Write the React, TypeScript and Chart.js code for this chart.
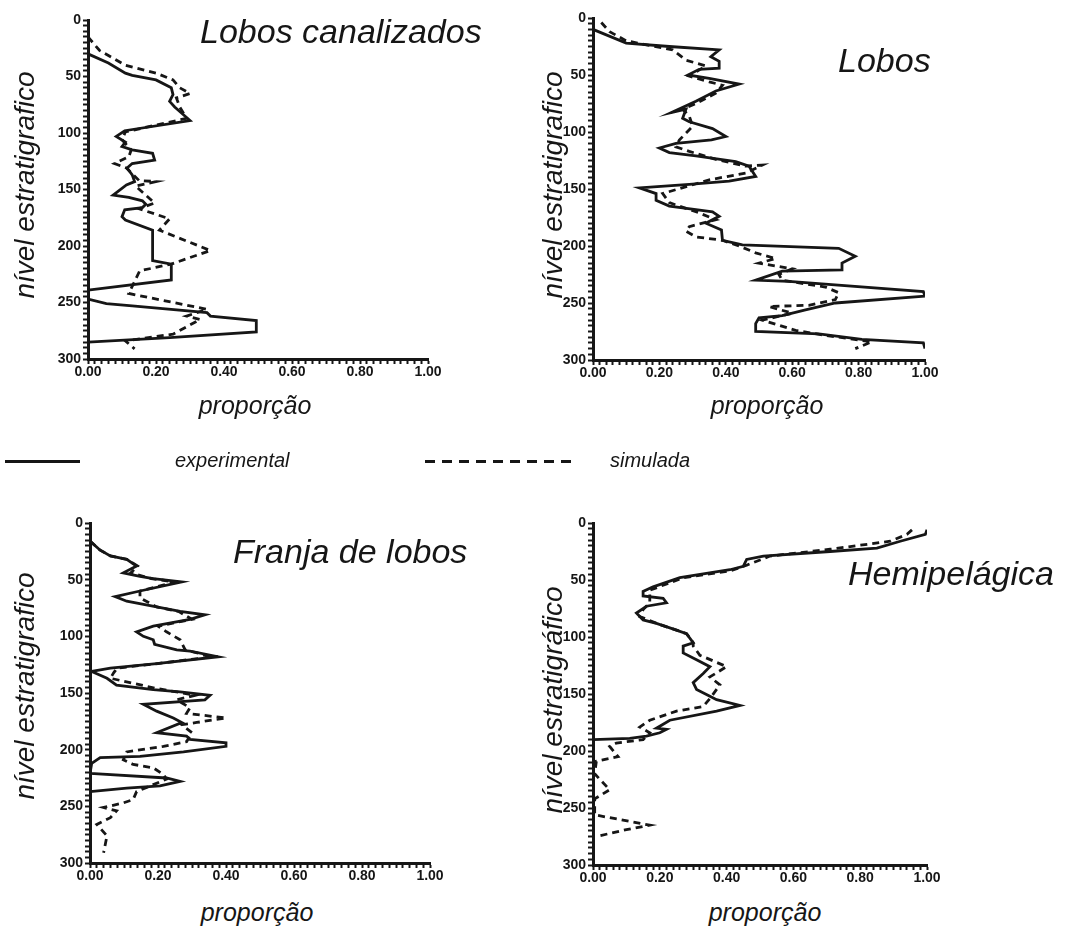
import React, { useEffect, useRef } from "react";
import { Chart, registerables } from "chart.js";

Chart.register(...registerables);

// ---------- tick labels ----------
const levelTickLabels = [0, 50, 100, 150, 200, 250, 300];
const proportionTickLabels = ["0.00", "0.20", "0.40", "0.60", "0.80", "1.00"];

// ---------- Lobos canalizados ----------
const lcExpLevel = [30, 38, 47, 49, 53, 60, 66, 72, 77, 81, 89, 98, 103, 108, 112, 115, 118, 124, 127, 131, 137, 143, 146, 155, 157, 160, 163, 166, 168, 174, 177, 186, 213, 216, 230, 239, 247, 251, 253, 259, 262, 266, 276, 281, 285];
const lcExpProp = [0, 0.06, 0.11, 0.13, 0.2, 0.245, 0.25, 0.24, 0.255, 0.27, 0.3, 0.108, 0.083, 0.11, 0.1, 0.13, 0.19, 0.196, 0.13, 0.115, 0.13, 0.137, 0.113, 0.074, 0.12, 0.16, 0.17, 0.16, 0.108, 0.1, 0.11, 0.19, 0.19, 0.245, 0.245, 0, 0, 0.054, 0.13, 0.35, 0.36, 0.495, 0.495, 0.24, 0];
const lcSimLevel = [15, 27, 40, 47, 53, 60, 65, 69, 77, 87, 99, 106, 115, 121, 127, 131, 136, 142, 143, 147, 155, 162, 167, 176, 186, 204, 216, 222, 242, 256, 262, 265, 278, 284, 291];
const lcSimProp = [0, 0.034, 0.11, 0.2, 0.25, 0.27, 0.3, 0.26, 0.27, 0.29, 0.11, 0.1, 0.127, 0.12, 0.078, 0.113, 0.13, 0.15, 0.2, 0.14, 0.17, 0.196, 0.15, 0.24, 0.21, 0.36, 0.245, 0.152, 0.12, 0.35, 0.29, 0.33, 0.25, 0.11, 0.137];

// ---------- Lobos ----------
const lbExpLevel = [10, 22, 25, 28, 34, 38, 44, 45, 50, 53, 58, 64, 73, 83, 80, 88, 91, 97, 104, 107, 110, 114, 118, 121, 126, 130, 139, 143, 146, 149, 154, 160, 165, 168, 170, 174, 180, 186, 195, 199, 202, 209, 215, 221, 222, 230, 231, 240, 244, 250, 256, 261, 263, 268, 275, 277, 282, 285, 290];
const lbExpProp = [0, 0.1, 0.23, 0.38, 0.355, 0.38, 0.38, 0.32, 0.286, 0.35, 0.44, 0.37, 0.31, 0.236, 0.28, 0.27, 0.29, 0.36, 0.4, 0.357, 0.25, 0.2, 0.23, 0.31, 0.43, 0.47, 0.49, 0.41, 0.29, 0.14, 0.19, 0.19, 0.23, 0.31, 0.36, 0.38, 0.34, 0.387, 0.39, 0.45, 0.74, 0.79, 0.75, 0.75, 0.57, 0.49, 0.59, 0.995, 1.0, 0.73, 0.64, 0.57, 0.5, 0.49, 0.49, 0.68, 0.81, 0.995, 1.0];
const lbSimLevel = [4, 12, 20, 28, 37, 42, 51, 56, 59, 66, 75, 80, 86, 95, 107, 113, 117, 124, 130, 129, 136, 142, 154, 162, 171, 177, 183, 187, 192, 195, 200, 206, 211, 215, 220, 225, 230, 236, 241, 247, 252, 253, 259, 265, 274, 278, 284, 290];
const lbSimProp = [0.025, 0.05, 0.1, 0.24, 0.28, 0.34, 0.29, 0.35, 0.39, 0.37, 0.31, 0.27, 0.29, 0.3, 0.26, 0.25, 0.29, 0.37, 0.46, 0.51, 0.46, 0.35, 0.21, 0.23, 0.32, 0.37, 0.29, 0.28, 0.31, 0.39, 0.44, 0.49, 0.55, 0.5, 0.6, 0.56, 0.57, 0.7, 0.74, 0.73, 0.65, 0.53, 0.6, 0.51, 0.61, 0.69, 0.84, 0.79];

// ---------- Franja de lobos ----------
const flExpLevel = [16, 24, 29, 32, 38, 44, 47, 49, 52, 60, 65, 69, 74, 78, 81, 85, 91, 96, 100, 103, 107, 112, 113, 118, 124, 128, 131, 137, 143, 147, 149, 152, 156, 160, 166, 172, 176, 185, 188, 191, 194, 197, 202, 206, 207, 212, 221, 225, 228, 232, 234, 237];
const flExpProp = [0, 0.03, 0.06, 0.108, 0.137, 0.098, 0.147, 0.186, 0.27, 0.147, 0.074, 0.108, 0.196, 0.265, 0.338, 0.294, 0.186, 0.137, 0.157, 0.186, 0.19, 0.255, 0.294, 0.377, 0.196, 0.06, 0.005, 0.05, 0.078, 0.186, 0.265, 0.353, 0.338, 0.157, 0.196, 0.245, 0.27, 0.196, 0.284, 0.294, 0.4, 0.4, 0.275, 0.147, 0.03, 0.005, 0, 0.225, 0.265, 0.206, 0.108, 0];
const flSimLevel = [16, 24, 29, 32, 38, 44, 49, 52, 60, 66, 74, 78, 85, 91, 96, 103, 112, 115, 118, 124, 128, 132, 137, 146, 152, 156, 163, 168, 172, 176, 178, 185, 193, 197, 202, 209, 213, 216, 222, 226, 237, 244, 247, 251, 254, 260, 266, 276, 291];
const flSimProp = [0, 0.03, 0.06, 0.108, 0.14, 0.12, 0.18, 0.25, 0.147, 0.147, 0.196, 0.26, 0.3, 0.2, 0.225, 0.265, 0.28, 0.32, 0.36, 0.2, 0.08, 0.07, 0.06, 0.196, 0.31, 0.255, 0.294, 0.284, 0.4, 0.314, 0.27, 0.3, 0.284, 0.216, 0.108, 0.098, 0.127, 0.186, 0.216, 0.225, 0.137, 0.127, 0.098, 0.04, 0.078, 0.06, 0.02, 0.05, 0.04];

// ---------- Hemipelágica ----------
const hpExpLevel = [6, 10, 16, 22, 25, 29, 32, 38, 41, 48, 56, 60, 64, 66, 70, 73, 79, 85, 88, 92, 97, 105, 108, 114, 120, 126, 132, 140, 146, 152, 155, 160, 165, 173, 180, 181, 184, 187, 189, 190];
const hpExpProp = [1.0, 0.995, 0.92, 0.85, 0.71, 0.51, 0.46, 0.45, 0.41, 0.26, 0.18, 0.15, 0.15, 0.21, 0.22, 0.16, 0.13, 0.15, 0.19, 0.23, 0.28, 0.3, 0.27, 0.27, 0.31, 0.35, 0.33, 0.3, 0.31, 0.35, 0.37, 0.44, 0.37, 0.23, 0.19, 0.22, 0.2, 0.16, 0.11, 0];
const hpSimLevel = [6, 10, 16, 23, 29, 37, 42, 48, 59, 64, 70, 76, 82, 88, 92, 97, 105, 108, 116, 126, 135, 142, 154, 161, 165, 173, 179, 184, 190, 193, 196, 205, 209, 220, 234, 242, 256, 265, 269, 275];
const hpSimProp = [0.955, 0.94, 0.89, 0.71, 0.53, 0.46, 0.41, 0.27, 0.17, 0.17, 0.17, 0.15, 0.14, 0.19, 0.23, 0.28, 0.3, 0.3, 0.32, 0.4, 0.35, 0.38, 0.35, 0.33, 0.25, 0.17, 0.14, 0.17, 0.15, 0.07, 0.05, 0.075, 0.01, 0.005, 0.05, 0.005, 0.005, 0.17, 0.1, 0.01];

const INK = "#161616";
const FONT = "'Liberation Sans', Arial, Helvetica, sans-serif";

type Box = { left: number; top: number; width: number; height: number };
type Area = { left: number; top: number; right: number; bottom: number };

function Panel(props: {
  box: Box;
  area: Area;
  expLevel: number[];
  expProp: number[];
  simLevel: number[];
  simProp: number[];
}) {
  const ref = useRef<HTMLCanvasElement | null>(null);
  const { box, area, expLevel, expProp, simLevel, simProp } = props;

  useEffect(() => {
    if (!ref.current) return;
    const yWidth = area.left - box.left;
    const xHeight = box.top + box.height - area.bottom;
    const tickFont = { family: FONT, weight: "bold" as const, size: 14 };
    const chart = new Chart(ref.current, {
      type: "scatter",
      data: {
        datasets: [
          {
            label: "experimental",
            data: expProp.map((p, i) => ({ x: p, y: expLevel[i] })),
            showLine: true,
            borderColor: INK,
            borderWidth: 2.8,
            pointRadius: 0,
            tension: 0,
            fill: false,
          },
          {
            label: "simulada",
            data: simProp.map((p, i) => ({ x: p, y: simLevel[i] })),
            showLine: true,
            borderColor: INK,
            borderWidth: 2.8,
            borderDash: [7, 5],
            pointRadius: 0,
            tension: 0,
            fill: false,
          },
        ],
      },
      options: {
        animation: false,
        responsive: false,
        maintainAspectRatio: false,
        layout: {
          padding: {
            top: area.top - box.top,
            right: box.left + box.width - area.right,
            left: 0,
            bottom: 0,
          },
        },
        plugins: {
          legend: { display: false },
          tooltip: { enabled: false },
        },
        scales: {
          x: {
            type: "linear",
            position: "bottom",
            min: 0,
            max: 1,
            border: { display: true, color: INK, width: 3 },
            grid: {
              drawOnChartArea: false,
              drawTicks: true,
              tickLength: 5,
              tickColor: INK,
              tickWidth: 2,
            },
            ticks: {
              stepSize: 0.02,
              maxTicksLimit: 1000,
              autoSkip: false,
              maxRotation: 0,
              minRotation: 0,
              padding: 0,
              color: INK,
              font: tickFont,
              callback: (v: any) => {
                const s = Number(v).toFixed(2);
                return proportionTickLabels.includes(s) ? s : "";
              },
            },
            afterFit: (s: any) => {
              s.height = xHeight;
            },
          },
          y: {
            type: "linear",
            position: "left",
            min: 0,
            max: 300,
            reverse: true,
            border: { display: true, color: INK, width: 3 },
            grid: {
              drawOnChartArea: false,
              drawTicks: true,
              tickLength: 5,
              tickColor: INK,
              tickWidth: 2,
            },
            ticks: {
              stepSize: 5,
              maxTicksLimit: 1000,
              autoSkip: false,
              padding: 2,
              color: INK,
              font: tickFont,
              callback: (v: any) => {
                const n = Math.round(Number(v));
                return levelTickLabels.includes(n) ? String(n) : "";
              },
            },
            afterFit: (s: any) => {
              s.width = yWidth;
            },
          },
        },
      },
    });
    return () => chart.destroy();
  }, []);

  return (
    <canvas
      ref={ref}
      width={box.width}
      height={box.height}
      style={{
        position: "absolute",
        left: box.left,
        top: box.top,
        width: box.width,
        height: box.height,
      }}
    />
  );
}

function Txt(props: { x: number; y: number; size: number; children: any; rotate?: boolean; anchor?: "start" | "middle" }) {
  const { x, y, size, children, rotate, anchor } = props;
  const base: React.CSSProperties = {
    position: "absolute",
    left: x,
    top: y,
    fontFamily: FONT,
    fontStyle: "italic",
    fontSize: size,
    lineHeight: 1,
    color: INK,
    whiteSpace: "nowrap",
  };
  if (rotate) {
    base.transform = "translate(-50%, -50%) rotate(-90deg)";
  } else if (anchor === "middle") {
    base.transform = "translate(-50%, -50%)";
  }
  return <div style={base}>{children}</div>;
}

export default function App() {
  return (
    <div
      style={{
        position: "absolute",
        left: 0,
        top: 0,
        width: 1075,
        height: 927,
        background: "#ffffff",
        overflow: "hidden",
      }}
    >
      <Panel
        box={{ left: 0, top: 0, width: 530, height: 395 }}
        area={{ left: 88, top: 20, right: 428, bottom: 359 }}
        expLevel={lcExpLevel}
        expProp={lcExpProp}
        simLevel={lcSimLevel}
        simProp={lcSimProp}
      />
      <Panel
        box={{ left: 530, top: 0, width: 545, height: 395 }}
        area={{ left: 593, top: 18, right: 925, bottom: 360 }}
        expLevel={lbExpLevel}
        expProp={lbExpProp}
        simLevel={lbSimLevel}
        simProp={lbSimProp}
      />
      <Panel
        box={{ left: 0, top: 500, width: 530, height: 395 }}
        area={{ left: 90, top: 523, right: 430, bottom: 863 }}
        expLevel={flExpLevel}
        expProp={flExpProp}
        simLevel={flSimLevel}
        simProp={flSimProp}
      />
      <Panel
        box={{ left: 530, top: 500, width: 545, height: 395 }}
        area={{ left: 593, top: 523, right: 927, bottom: 865 }}
        expLevel={hpExpLevel}
        expProp={hpExpProp}
        simLevel={hpSimLevel}
        simProp={hpSimProp}
      />

      {/* panel titles */}
      <Txt x={200} y={14} size={34}>Lobos canalizados</Txt>
      <Txt x={838} y={43} size={34}>Lobos</Txt>
      <Txt x={233} y={534} size={34}>Franja de lobos</Txt>
      <Txt x={848} y={556} size={34}>Hemipelágica</Txt>

      {/* y-axis titles */}
      <Txt x={25} y={185} size={28} rotate>nível estratigrafico</Txt>
      <Txt x={553} y={185} size={28} rotate>nível estratigrafico</Txt>
      <Txt x={25} y={686} size={28} rotate>nível estratigrafico</Txt>
      <Txt x={553} y={700} size={28} rotate>nível estratigráfico</Txt>

      {/* x-axis titles */}
      <Txt x={255} y={405} size={25} anchor="middle">proporção</Txt>
      <Txt x={767} y={405} size={25} anchor="middle">proporção</Txt>
      <Txt x={257} y={912} size={25} anchor="middle">proporção</Txt>
      <Txt x={765} y={912} size={25} anchor="middle">proporção</Txt>

      {/* legend */}
      <div style={{ position: "absolute", left: 5, top: 460, width: 75, height: 3, background: INK }} />
      <Txt x={175} y={450} size={20}>experimental</Txt>
      <div
        style={{
          position: "absolute",
          left: 425,
          top: 460,
          width: 146,
          height: 3,
          background: `repeating-linear-gradient(to right, ${INK} 0px, ${INK} 10px, transparent 10px, transparent 17px)`,
        }}
      />
      <Txt x={610} y={450} size={20}>simulada</Txt>
    </div>
  );
}
